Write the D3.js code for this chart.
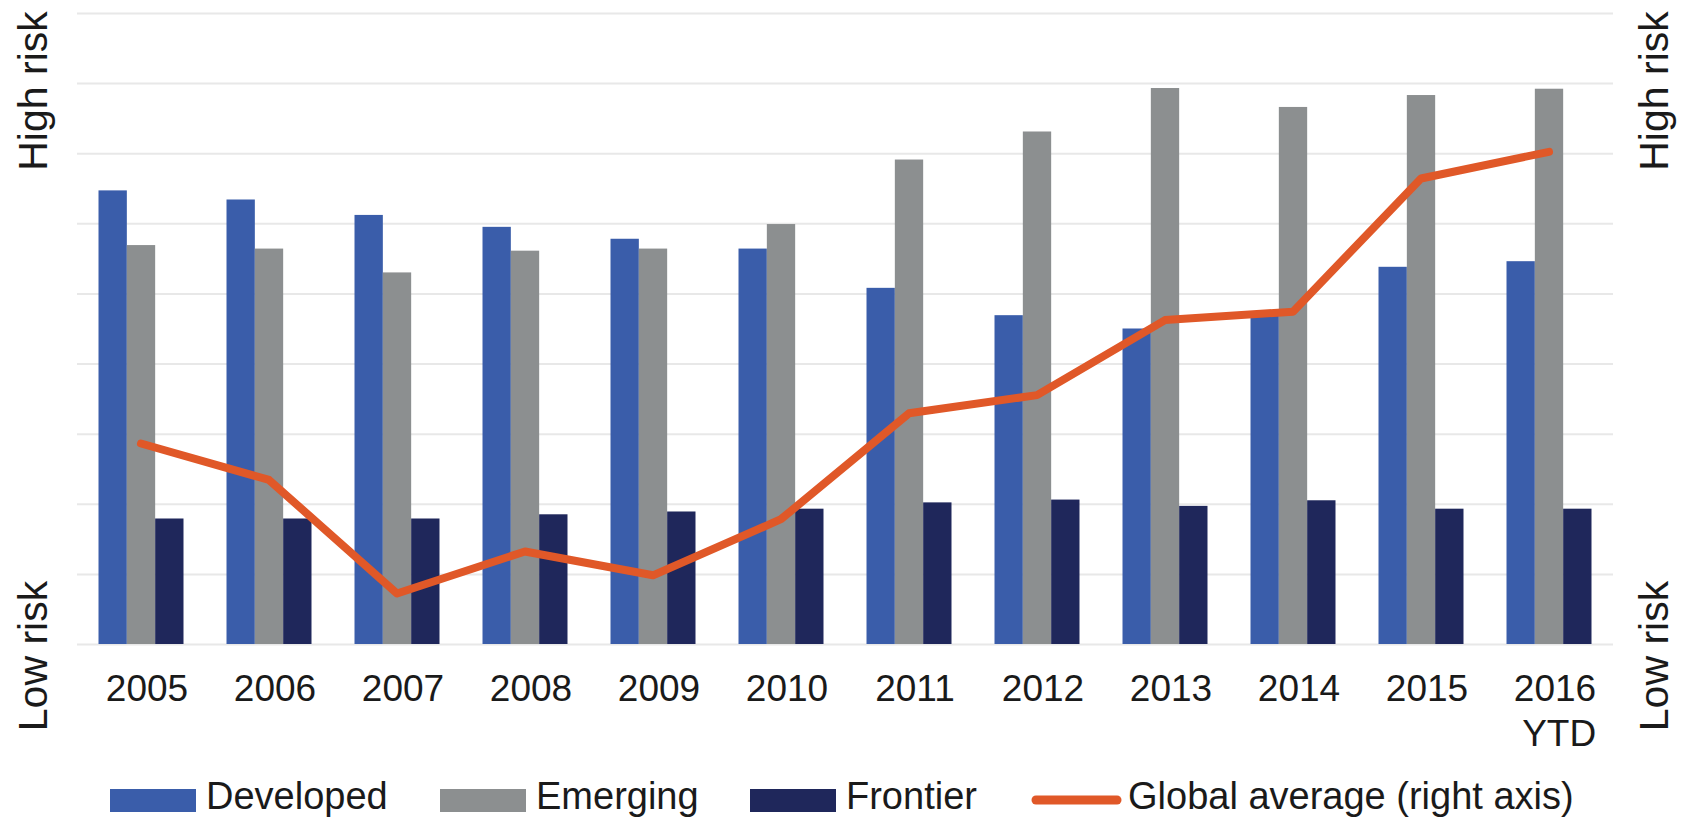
<!DOCTYPE html>
<html>
<head>
<meta charset="utf-8">
<script src="https://cdn.jsdelivr.net/npm/d3@7"></script>
<style>
  html, body { margin: 0; padding: 0; background: #ffffff; }
  svg { display: block; font-family: "Liberation Sans", Arial, sans-serif; }
</style>
</head>
<body>
<svg id="chart" width="1687" height="819"></svg>
<script>
// ---- Data ----
const categories = ["2005", "2006", "2007", "2008", "2009", "2010", "2011", "2012", "2013", "2014", "2015", "2016 YTD"];
const seriesNames = ["Developed", "Emerging", "Frontier"];
const developed = [6.47, 6.34, 6.12, 5.95, 5.78, 5.64, 5.08, 4.69, 4.50, 4.72, 5.38, 5.46];
const emerging  = [5.69, 5.64, 5.30, 5.61, 5.64, 5.99, 6.91, 7.31, 7.93, 7.66, 7.83, 7.92];
const frontier  = [1.79, 1.79, 1.79, 1.85, 1.89, 1.93, 2.02, 2.06, 1.97, 2.05, 1.93, 1.93];
const globalAvg = [2.86, 2.34, 0.72, 1.32, 0.98, 1.78, 3.29, 3.55, 4.62, 4.74, 6.64, 7.02];
const lineName = "Global average (right axis)";
const gridTicks = [0, 1, 2, 3, 4, 5, 6, 7, 8, 9];
const axisTextHigh = "High risk";
const axisTextLow = "Low risk";

// ---- Styles / layout ----
const colors = { Developed: "#3A5DAA", Emerging: "#8C8F90", Frontier: "#1F275B" };
const lineColor = "#E05828";
const margin = { left: 77, right: 74, top: 13, bottom: 175 };
const W = 1687, H = 819;
const plotW = W - margin.left - margin.right;   // 1536
const plotH = H - margin.top - margin.bottom;   // 631

const svg = d3.select("#chart");

const x0 = d3.scaleBand().domain(categories).range([margin.left, margin.left + plotW])
  .paddingInner(0.336).paddingOuter(0.168);
const x1 = d3.scaleBand().domain(seriesNames).range([0, x0.bandwidth()]);
const yLeft = d3.scaleLinear().domain([0, 9]).range([margin.top + plotH, margin.top]);
const yRight = d3.scaleLinear().domain([0, 9]).range([margin.top + plotH, margin.top]);

// gridlines
const grid = svg.append("g")
  .attr("transform", `translate(${margin.left},0)`)
  .call(d3.axisLeft(yLeft).tickValues(gridTicks).tickSize(-plotW).tickFormat(""));
grid.select(".domain").remove();
grid.selectAll(".tick line").attr("stroke", "#E8E8E8").attr("stroke-width", 2);

// bars
const seriesData = { Developed: developed, Emerging: emerging, Frontier: frontier };
const rows = categories.map((c, i) => ({ cat: c, vals: seriesNames.map(s => ({ s, v: seriesData[s][i] })) }));
const groups = svg.append("g").selectAll("g").data(rows).join("g")
  .attr("transform", d => `translate(${x0(d.cat)},0)`);
groups.selectAll("rect").data(d => d.vals).join("rect")
  .attr("x", d => x1(d.s))
  .attr("width", x1.bandwidth())
  .attr("y", d => yLeft(d.v))
  .attr("height", d => yLeft(0) - yLeft(d.v))
  .attr("fill", d => colors[d.s]);

// line
const line = d3.line()
  .x((d, i) => x0(categories[i]) + x0.bandwidth() / 2)
  .y(d => yRight(d));
svg.append("path")
  .datum(globalAvg)
  .attr("d", line)
  .attr("fill", "none")
  .attr("stroke", lineColor)
  .attr("stroke-width", 8)
  .attr("stroke-linejoin", "round")
  .attr("stroke-linecap", "round");

// x labels
const xl = svg.append("g").attr("font-size", 37).attr("fill", "#1a1a1a");
categories.forEach(c => {
  const parts = c.split(" ");
  const cx = x0(c) + x0.bandwidth() / 2 + 6;
  const t = xl.append("text").attr("x", cx).attr("y", 701).attr("text-anchor", "middle").text(parts[0]);
  if (parts.length > 1) {
    const w = t.node().getComputedTextLength();
    xl.append("text").attr("x", cx + w / 2).attr("y", 746).attr("text-anchor", "end").text(parts[1]);
  }
});

// side labels
const side = svg.append("g").attr("font-size", 41).attr("fill", "#1a1a1a").attr("text-anchor", "middle");
[[47, 91, axisTextHigh], [47, 656, axisTextLow], [1668, 91, axisTextHigh], [1668, 656, axisTextLow]].forEach(([x, y, t]) => {
  side.append("text").attr("transform", `translate(${x},${y}) rotate(-90)`).text(t);
});

// legend
const legend = svg.append("g").attr("font-size", 38).attr("fill", "#1a1a1a");
const legendItems = seriesNames.map(s => ({ name: s, type: "bar" })).concat([{ name: lineName, type: "line" }]);
const legendStarts = [110, 440, 750, 1031];
legendItems.forEach((it, i) => {
  const sx = legendStarts[i];
  if (it.type === "bar") {
    legend.append("rect").attr("x", sx).attr("y", 789).attr("width", 86).attr("height", 23).attr("fill", colors[it.name]);
    legend.append("text").attr("x", sx + 96).attr("y", 809).text(it.name);
  } else {
    legend.append("line").attr("x1", sx + 5).attr("x2", sx + 86).attr("y1", 800).attr("y2", 800)
      .attr("stroke", lineColor).attr("stroke-width", 9).attr("stroke-linecap", "round");
    legend.append("text").attr("x", sx + 97).attr("y", 809).text(it.name);
  }
});
</script>
</body>
</html>
